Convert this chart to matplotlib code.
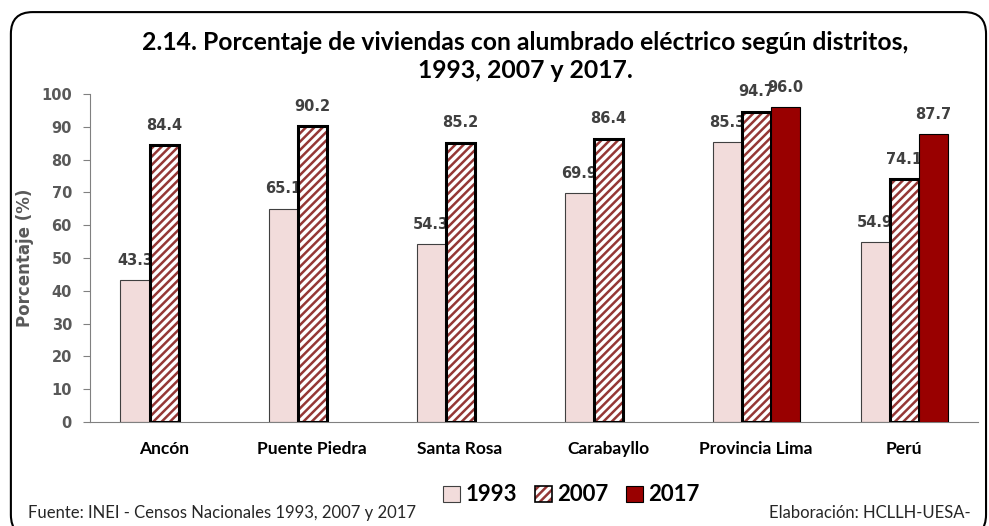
import numpy as np
import matplotlib
matplotlib.use("Agg")
import matplotlib.pyplot as plt
from matplotlib.patches import Patch, FancyBboxPatch
from matplotlib.legend_handler import HandlerTuple

categories = ["Ancón", "Puente Piedra", "Santa Rosa", "Carabayllo", "Provincia Lima", "Perú"]
v1993 = [43.3, 65.1, 54.3, 69.9, 85.3, 54.9]
v2007 = [84.4, 90.2, 85.2, 86.4, 94.7, 74.1]
v2017 = [np.nan, np.nan, np.nan, np.nan, 96.0, 87.7]
yticks = [0, 10, 20, 30, 40, 50, 60, 70, 80, 90, 100]

C1993 = "#F2DCDB"
CHATCH = "#953735"
C2017 = "#990000"
GREY = "#595959"
TITLE_FONT = ["Lato", "DejaVu Sans"]

plt.rcParams["hatch.linewidth"] = 1.8


def add_labels(ax, x, vals, z):
    for xi, v in zip(x, vals):
        if np.isnan(v):
            continue
        ax.annotate(f"{v:.1f}", (xi, v), xytext=(0, 11), textcoords="offset points",
                    ha="center", va="baseline", fontsize=10.5, fontweight="bold",
                    color="#404040", zorder=z)


def make_fig():
    fig = plt.figure(figsize=(9.89, 5.26), dpi=100)
    # rounded frame
    frame = FancyBboxPatch((0.011, -0.02), 0.986, 0.997, boxstyle="round,pad=0,rounding_size=0.022",
                           transform=fig.transFigure, fill=False, ec="black", lw=1.5,
                           mutation_aspect=989 / 526)
    fig.patches.append(frame)

    ax = fig.add_axes([0.091, 0.198, 0.898, 0.623])
    x = np.arange(len(categories))
    w = 0.196

    ax.bar(x - w, v1993, w, color=C1993, edgecolor="#404040", linewidth=0.8, zorder=2)
    add_labels(ax, x - w, v1993, 2.5)
    ax.bar(x, v2007, w, color="white", edgecolor=CHATCH, hatch="////", linewidth=0, zorder=3)
    ax.bar(x, v2007, w, fill=False, edgecolor="black", linewidth=2.2, zorder=3.1)
    add_labels(ax, x, v2007, 3.5)
    m = ~np.isnan(np.array(v2017))
    ax.bar(x[m] + w, np.array(v2017)[m], w, color=C2017, edgecolor="black", linewidth=0.8, zorder=4)
    add_labels(ax, x + w, v2017, 4.5)

    ax.set_xlim(-0.5, len(categories) - 0.5)
    ax.set_ylim(0, 100)
    ax.set_yticks(yticks)
    ax.tick_params(axis="y", direction="out", length=5, width=0.8, color="#808080",
                   labelcolor=GREY, labelsize=10.5, pad=8)
    for t in ax.get_yticklabels():
        t.set_fontweight("bold")
    ax.set_xticks(x)
    ax.set_xticklabels(categories, family=TITLE_FONT, fontweight="bold", fontsize=12.5)
    ax.tick_params(axis="x", length=0, pad=14)
    for s in ["top", "right"]:
        ax.spines[s].set_visible(False)
    for s in ["left", "bottom"]:
        ax.spines[s].set_color("#808080")
        ax.spines[s].set_linewidth(0.8)
    ax.set_ylabel("Porcentaje (%)", fontsize=12, fontweight="bold", color=GREY, labelpad=5)

    fig.text(0.531, 0.919, "2.14. Porcentaje de viviendas con alumbrado eléctrico según distritos,",
             ha="center", va="center", family=TITLE_FONT, fontweight="bold", fontsize=17.8)
    fig.text(0.531, 0.866, "1993, 2007 y 2017.", ha="center", va="center",
             family=TITLE_FONT, fontweight="bold", fontsize=17.8)

    handles = [Patch(facecolor=C1993, edgecolor="#404040", linewidth=0.8),
               (Patch(facecolor="white", edgecolor=CHATCH, hatch="////", linewidth=0),
                Patch(fill=False, edgecolor="black", linewidth=1.2)),
               Patch(facecolor=C2017, edgecolor="black", linewidth=0.8)]
    fig.legend(handles, ["1993", "2007", "2017"], loc="center", bbox_to_anchor=(0.578, 0.059),
               ncol=3, frameon=False, handler_map={tuple: HandlerTuple(ndivide=1, pad=0)},
               prop={"family": TITLE_FONT, "weight": "bold", "size": 16},
               handlelength=0.75, handleheight=0.75, handletextpad=0.25, columnspacing=0.8)

    fig.text(0.028, 0.025, "Fuente: INEI - Censos Nacionales 1993, 2007 y 2017", ha="left", va="center",
             family=TITLE_FONT, fontsize=12, color="#262626")
    fig.text(0.981, 0.025, "Elaboración: HCLLH-UESA-", ha="right", va="center",
             family=TITLE_FONT, fontsize=12, color="#262626")

    fig.savefig("out.png", dpi=100)


if __name__ == "__main__":
    make_fig()
